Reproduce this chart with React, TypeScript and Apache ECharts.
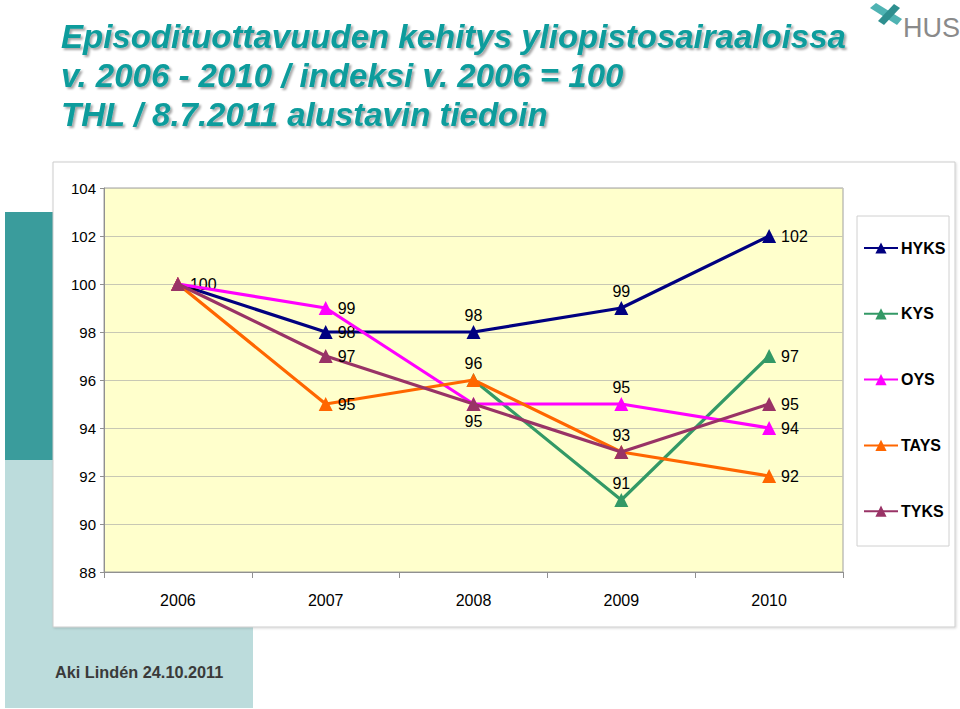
import React, { useEffect, useRef } from "react";
import * as echarts from "echarts";

const years = ["2006", "2007", "2008", "2009", "2010"];
const seriesNames = ["HYKS", "KYS", "OYS", "TAYS", "TYKS"];
const hyks = [100, 98, 98, 99, 102];
const kys = [null, null, 96, 91, 97];
const oys = [100, 99, 95, 95, 94];
const tays = [100, 95, 96, 93, 92];
const tyks = [100, 97, 95, 93, 95];
const yTicks = { min: 88, max: 104, step: 2 };

const titleLines = [
  "Episodituottavuuden kehitys yliopistosairaaloissa",
  "v. 2006 - 2010 / indeksi v. 2006 = 100",
  "THL / 8.7.2011 alustavin tiedoin",
];
const footer = "Aki Lindén 24.10.2011";

const colors = ["#000080", "#339966", "#FF00FF", "#FF6600", "#993366"];
// label placement per point (style only)
const labelPos: (string | null)[][] = [
  ["right", "right", "top", "top", "right"],
  [null, null, null, "top", "right"],
  [null, "right", null, "top", "right"],
  [null, "right", "top", "top", "right"],
  [null, "right", "bottom", null, "right"],
];

export default function App() {
  const ref = useRef<HTMLDivElement>(null);
  useEffect(() => {
    document.body.style.margin = "0";
    const chart = echarts.init(ref.current!, null, { renderer: "svg" });
    const all = [hyks, kys, oys, tays, tyks];
    const font = "Arial, 'Liberation Sans', sans-serif";
    const series = all.map((arr, si) => ({
      name: seriesNames[si],
      type: "line",
      symbol: "triangle",
      symbolSize: 14,
      lineStyle: { width: 3.2, color: colors[si] },
      itemStyle: { color: colors[si] },
      z: 2 + si,
      data: arr.map((v, i) => {
        const p = labelPos[si][i];
        return {
          value: v,
          label: p
            ? {
                show: true,
                position: p,
                distance: p === "right" ? 5 : 2,
                fontSize: 16,
                color: "#000",
                fontFamily: font,
              }
            : { show: false },
        };
      }),
    }));

    const graphic: any[] = [
      { type: "rect", shape: { x: 5, y: 460, width: 248, height: 248 }, style: { fill: "#BCDCDC" }, z: -10 },
      { type: "rect", shape: { x: 5, y: 212, width: 248, height: 248 }, style: { fill: "#3A9C9C" }, z: -10 },
      {
        type: "rect",
        shape: { x: 53, y: 162, width: 902, height: 465 },
        style: { fill: "#fff", stroke: "#cccccc", lineWidth: 1, shadowColor: "rgba(0,0,0,0.15)", shadowOffsetX: 1, shadowOffsetY: 1, shadowBlur: 2 },
        z: -9,
      },
      {
        type: "rect",
        shape: { x: 857, y: 216, width: 92, height: 330 },
        style: { fill: "#fff", stroke: "#d0d0d0", lineWidth: 1 },
        z: -8,
      },
      ...titleLines.map((t, i) => ({
        type: "text",
        x: 61,
        y: 36 + i * 39,
        style: {
          text: t,
          fill: "#0A9C9C",
          font: `italic bold 33px ${font}`,
          textVerticalAlign: "middle",
          textShadowColor: "rgba(0,0,0,0.35)",
          textShadowOffsetX: 2,
          textShadowOffsetY: 2,
          textShadowBlur: 2,
        },
      })),
      {
        type: "text",
        x: 55,
        y: 672,
        style: { text: footer, fill: "#3a3a3a", font: `bold 16.3px ${font}`, textVerticalAlign: "middle" },
      },
      {
        type: "text",
        x: 903,
        y: 28,
        style: { text: "HUS", fill: "#8a8a8a", font: `27px ${font}`, textVerticalAlign: "middle" },
      },
      {
        type: "polygon",
        shape: { points: [[870, 8], [876, 3], [902, 19], [897, 25]] },
        style: { fill: "#4FB3B3" },
      },
      {
        type: "polygon",
        shape: { points: [[878, 21], [884, 25], [900, 8], [894, 4]] },
        style: { fill: "#2E8F8F" },
      },
    ];

    chart.setOption({
      animation: false,
      textStyle: { fontFamily: font },
      grid: {
        left: 104,
        top: 188,
        width: 739,
        height: 384,
        show: true,
        backgroundColor: "#FFFFCC",
        borderColor: "#a0a0a0",
        borderWidth: 1,
      },
      legend: {
        orient: "vertical",
        left: 863,
        top: 240,
        padding: 0,
        itemWidth: 34,
        itemHeight: 14,
        itemGap: 49.8,
        data: seriesNames,
        textStyle: { fontSize: 16, fontWeight: "bold", color: "#000", fontFamily: font, padding: [0, 0, 0, -2] },
      },
      xAxis: {
        type: "category",
        data: years,
        boundaryGap: true,
        axisLine: { lineStyle: { color: "#909090" } },
        axisTick: { show: true, length: 6, lineStyle: { color: "#909090" } },
        axisLabel: { fontSize: 16, color: "#000", margin: 20, fontFamily: font },
      },
      yAxis: {
        type: "value",
        min: yTicks.min,
        max: yTicks.max,
        interval: yTicks.step,
        axisLine: { show: true, lineStyle: { color: "#909090" } },
        axisTick: { show: true, length: 4, lineStyle: { color: "#909090" } },
        axisLabel: { fontSize: 15, color: "#000", margin: 8, fontFamily: font },
        splitLine: { lineStyle: { color: "#c8c8b4" } },
      },
      series,
      graphic,
    });
    return () => chart.dispose();
  }, []);
  return <div ref={ref} style={{ position: "absolute", left: 0, top: 0, width: 960, height: 709, background: "#fff" }} />;
}
